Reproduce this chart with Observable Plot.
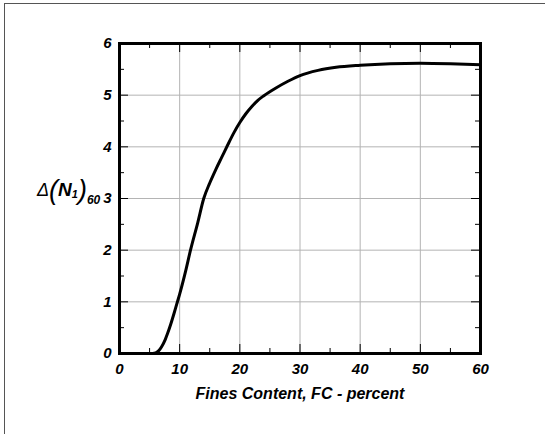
<!DOCTYPE html>
<html>
<head>
<meta charset="utf-8">
<script src="https://cdn.jsdelivr.net/npm/d3@7"></script>
<script src="https://cdn.jsdelivr.net/npm/@observablehq/plot@0.6"></script>
<style>
  html, body { margin: 0; padding: 0; background: #fff; }
  #wrap { position: relative; width: 545px; height: 434px; overflow: hidden; }
  #edge { position: absolute; left: 4px; top: 3px; width: 560px; height: 450px; border-top: 1px solid #555; border-left: 1px solid #555; pointer-events: none; }
  svg { display: block; }
</style>
</head>
<body>
<div id="wrap"><div id="edge"></div></div>
<script>
// Fines content (percent) and Δ(N1)60
const finesContent = [0, 2, 4, 5.5, 6, 6.5, 7, 7.6, 8, 8.5, 9, 9.5, 10, 11, 11.8, 13, 14, 15, 16, 17, 18, 19, 20, 21, 22, 23, 24, 26, 28, 30, 33, 36, 40, 45, 50, 55, 60];
const deltaN160    = [0, 0, 0, 0, 0.01, 0.05, 0.13, 0.27, 0.39, 0.56, 0.75, 0.95, 1.15, 1.6, 2.0, 2.53, 3.0, 3.3, 3.56, 3.8, 4.04, 4.27, 4.47, 4.64, 4.78, 4.9, 4.99, 5.14, 5.27, 5.38, 5.48, 5.54, 5.58, 5.61, 5.62, 5.61, 5.59];

const xMajor = [0, 10, 20, 30, 40, 50, 60];
const xMinor = [5, 15, 25, 35, 45, 55];
const yMajor = [0, 1, 2, 3, 4, 5, 6];
const yMinor = [0.5, 1.5, 2.5, 3.5, 4.5, 5.5];
const xLabel = "Fines Content, FC - percent";

const curve = finesContent.map((x, i) => ({x, y: deltaN160[i]}));

const W = 545, H = 434, mL = 119, mR = 65, mT = 43, mB = 81;
const pw = W - mL - mR, ph = H - mT - mB;
const font = "'Liberation Sans', Arial, sans-serif";

const plot = Plot.plot({
  width: W, height: H,
  marginLeft: mL, marginRight: mR, marginTop: mT, marginBottom: mB,
  style: {fontFamily: font, fontSize: "15px", fontWeight: "bold", fontStyle: "italic", background: "transparent", overflow: "visible"},
  x: {domain: [0, 60]},
  y: {domain: [0, 6]},
  marks: [
    Plot.gridX(xMajor, {stroke: "#b4b4b4", strokeOpacity: 1, strokeWidth: 1}),
    Plot.gridY(yMajor, {stroke: "#b4b4b4", strokeOpacity: 1, strokeWidth: 1}),
    // inward ticks
    Plot.tickX(xMajor, {x: d => d, insetTop: ph - 9, stroke: "#000"}),
    Plot.tickX(xMajor, {x: d => d, insetBottom: ph - 9, stroke: "#000"}),
    Plot.tickX(xMinor, {x: d => d, insetTop: ph - 5, stroke: "#000"}),
    Plot.tickX(xMinor, {x: d => d, insetBottom: ph - 5, stroke: "#000"}),
    Plot.tickY(yMajor, {y: d => d, insetRight: pw - 9, stroke: "#000"}),
    Plot.tickY(yMajor, {y: d => d, insetLeft: pw - 9, stroke: "#000"}),
    Plot.tickY(yMinor, {y: d => d, insetRight: pw - 5, stroke: "#000"}),
    Plot.tickY(yMinor, {y: d => d, insetLeft: pw - 5, stroke: "#000"}),
    Plot.line(curve, {x: "x", y: "y", stroke: "#000", strokeWidth: 3, curve: "monotone-x"}),
    Plot.frame({stroke: "#000", strokeWidth: 3}),
    Plot.axisX(xMajor, {tickSize: 0, tickPadding: 10, fontSize: 15, tickFormat: "d", label: xLabel, labelAnchor: "center", labelArrow: "none", labelOffset: 45}),
    Plot.axisY(yMajor, {tickSize: 0, tickPadding: 8, fontSize: 15, tickFormat: "d", label: null})
  ]
});

document.getElementById("wrap").prepend(plot);

// x-axis title size
d3.select(plot).selectAll("[aria-label='x-axis label'] text").style("font-size", "16px");

// y-axis title with subscripts
const ys = plot.scale("y");
const yc = ys.apply(3);
const t = d3.select(plot).append("text")
  .attr("x", 37).attr("y", yc - 2)
  .attr("text-anchor", "start")
  .attr("font-family", font).attr("font-style", "italic").attr("font-weight", "bold")
  .attr("fill", "#000");
t.append("tspan").attr("font-size", 18).attr("font-weight", "normal").text("Δ");
t.append("tspan").attr("font-size", 27).attr("font-weight", "normal").attr("dy", 3).text("(");
t.append("tspan").attr("font-size", 19).attr("dy", -3).text("N");
t.append("tspan").attr("font-size", 11).attr("dy", 2).text("1");
t.append("tspan").attr("font-size", 27).attr("font-weight", "normal").attr("dy", 1).text(")");
t.append("tspan").attr("font-size", 12).attr("dy", 5).text("60");
</script>
</body>
</html>
